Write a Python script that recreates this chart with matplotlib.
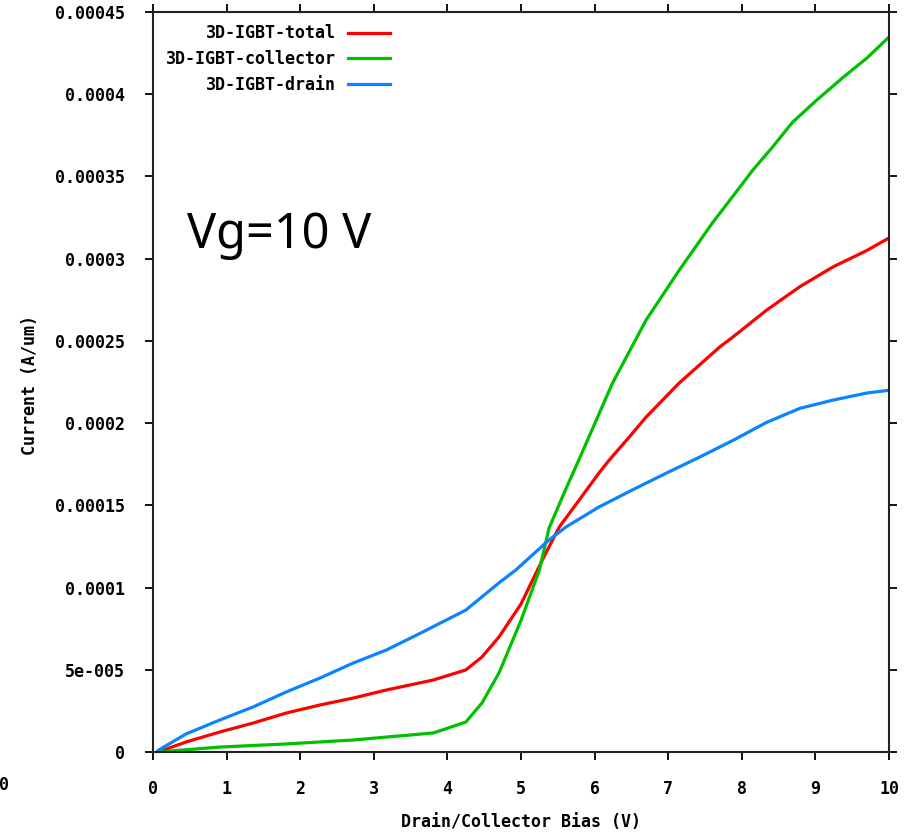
import matplotlib
matplotlib.use("Agg")
import matplotlib.pyplot as plt

# ---- data ----
x_total = [0.07, 0.45, 0.91, 1.36, 1.81, 2.27, 2.72, 3.17, 3.81, 4.25, 4.47, 4.70, 5.0, 5.29, 5.52,
           5.79, 6.06, 6.20, 6.47, 6.70, 7.15, 7.70, 7.88, 8.34, 8.79, 9.24, 9.70, 10.0]
y_total = [0, 6.1e-6, 1.22e-5, 1.76e-5, 2.37e-5, 2.86e-5, 3.28e-5, 3.77e-5, 4.38e-5, 4.99e-5, 5.78e-5,
           6.99e-5, 9.0e-5, 1.168e-4, 1.368e-4, 1.532e-4, 1.697e-4, 1.776e-4, 1.915e-4, 2.037e-4,
           2.244e-4, 2.463e-4, 2.524e-4, 2.688e-4, 2.83e-4, 2.95e-4, 3.05e-4, 3.126e-4]

x_coll = [0.07, 0.91, 1.81, 2.72, 3.81, 4.25, 4.47, 4.70, 5.0, 5.25, 5.38, 5.61, 5.79, 6.24, 6.70, 7.15,
          7.60, 7.88, 8.15, 8.42, 8.69, 9.02, 9.37, 9.70, 10.0]
y_coll = [0, 3.0e-6, 4.9e-6, 7.3e-6, 1.16e-5, 1.82e-5, 2.98e-5, 4.8e-5, 8.0e-5, 1.107e-4, 1.36e-4,
          1.60e-4, 1.78e-4, 2.24e-4, 2.627e-4, 2.93e-4, 3.217e-4, 3.38e-4, 3.539e-4, 3.68e-4,
          3.83e-4, 3.965e-4, 4.10e-4, 4.22e-4, 4.348e-4]

x_drain = [0.07, 0.45, 0.91, 1.36, 1.81, 2.27, 2.72, 3.17, 3.64, 4.25, 4.70, 4.93, 5.38, 5.61, 6.06,
           6.51, 6.98, 7.43, 7.88, 8.34, 8.79, 9.24, 9.70, 10.0]
y_drain = [1e-6, 1.1e-5, 1.95e-5, 2.74e-5, 3.65e-5, 4.5e-5, 5.41e-5, 6.2e-5, 7.24e-5, 8.63e-5,
           1.028e-4, 1.107e-4, 1.289e-4, 1.368e-4, 1.49e-4, 1.593e-4, 1.697e-4, 1.794e-4,
           1.895e-4, 2.005e-4, 2.09e-4, 2.14e-4, 2.183e-4, 2.2e-4]

series_labels = ["3D-IGBT-total", "3D-IGBT-collector", "3D-IGBT-drain"]
x_ticks = [0, 1, 2, 3, 4, 5, 6, 7, 8, 9, 10]
y_ticks = [0, 5e-5, 1e-4, 1.5e-4, 2e-4, 2.5e-4, 3e-4, 3.5e-4, 4e-4, 4.5e-4]
y_tick_labels = ["0", "5e-005", "0.0001", "0.00015", "0.0002", "0.00025", "0.0003", "0.00035", "0.0004", "0.00045"]
x_label = "Drain/Collector Bias (V)"
y_label = "Current (A/um)"
annotation = "Vg=10 V"

mono = ["DejaVu Sans Mono"]

fig = plt.figure(figsize=(9.16, 8.35), dpi=100)
ax = fig.add_axes([153/916, 1 - 752/835, (889 - 153)/916, (752 - 12)/835])

ax.plot(x_total, y_total, color="#ff0000", lw=2.3, label=series_labels[0])
ax.plot(x_coll, y_coll, color="#00c000", lw=2.3, label=series_labels[1])
ax.plot(x_drain, y_drain, color="#0a84ff", lw=2.3, label=series_labels[2])

ax.set_xlim(0, 10)
ax.set_ylim(0, 4.5e-4)
ax.set_xticks(x_ticks)
ax.set_xticklabels([str(t) for t in x_ticks])
ax.set_yticks(y_ticks)
ax.set_yticklabels(y_tick_labels)
ax.tick_params(direction="out", length=6, width=1.3, top=True, right=True, labelsize=12)
ax.tick_params(axis="y", pad=14)
ax.tick_params(axis="x", pad=14)
for lab in ax.get_xticklabels() + ax.get_yticklabels():
    lab.set_family(mono)
    lab.set_fontweight("bold")
for s in ax.spines.values():
    s.set_linewidth(1.5)
    s.set_color("#222222")

ax.set_xlabel(x_label, family=mono, fontweight="bold", fontsize=12, va="center")
ax.xaxis.set_label_coords(0.5, (752 - 822) / 740)
ax.set_ylabel(y_label, family=mono, fontweight="bold", fontsize=12, va="center")
ax.yaxis.set_label_coords((30 - 153) / 736, 0.496)

leg = ax.legend(loc="upper left", bbox_to_anchor=(0.0, 1.0), markerfirst=False, frameon=False,
                prop={"family": mono, "weight": "bold", "size": 12}, handlelength=2.5,
                handletextpad=0.75, labelspacing=0.45, borderaxespad=0.45, borderpad=0.3)

ax.text(0.046, 0.699, annotation, transform=ax.transAxes, fontsize=35, family=["Noto Sans"],
        ha="left", va="center")

# cropped neighbour artefact at bottom-left
fig.text(-0.012, 1 - 785/835, "10", family=mono, fontweight="bold", fontsize=12, ha="left", va="center")

fig.savefig("out.png", dpi=100)
